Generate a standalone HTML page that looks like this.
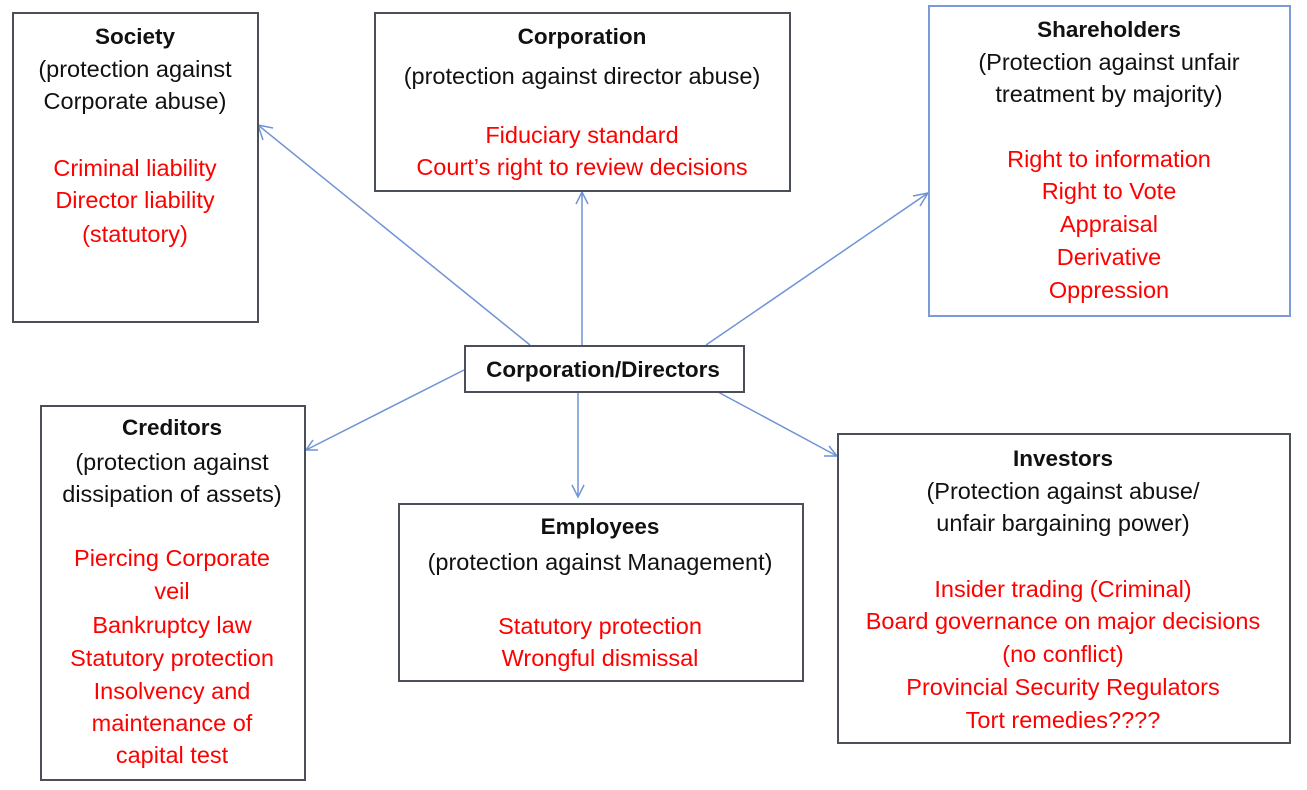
<!DOCTYPE html>
<html><head><meta charset="utf-8"><style>
body{margin:0;width:1307px;height:790px;background:#fff;position:relative;overflow:hidden;font-family:"Liberation Sans",sans-serif;}
.b{position:absolute;border:2px solid #4a4f5a;box-sizing:border-box;background:#fff;}
.t{position:absolute;width:600px;margin-left:-300px;text-align:center;line-height:32px;font-size:23.5px;color:#111;white-space:nowrap;}
.h{font-weight:bold;font-size:22.5px;}
.r{color:#f00;}
svg{position:absolute;left:0;top:0;}
</style></head><body>
<svg width="1307" height="790">
<g stroke="#6f93d6" stroke-width="1.5" fill="none">
<line x1="530" y1="345" x2="258" y2="125"/><polyline points="263,140 258,125 273,128"/>
<line x1="582" y1="345" x2="582" y2="192"/><polyline points="576,204 582,192 588,204"/>
<line x1="706" y1="345" x2="928" y2="193"/><polyline points="913,196 928,193 920,206"/>
<line x1="464" y1="370" x2="306" y2="450"/><polyline points="313,440 306,450 318,450"/>
<line x1="578" y1="392" x2="578" y2="497"/><polyline points="572,485 578,497 584,485"/>
<line x1="718" y1="392" x2="837" y2="456"/><polyline points="824,456 837,456 829,446"/>
<polyline points="670,178 683,183 681,174"/>
</g></svg>
<div class="b" style="left:12px;top:12px;width:247px;height:311px"></div>
<div class="b" style="left:374px;top:12px;width:417px;height:180px"></div>
<div class="b" style="left:928px;top:5px;width:363px;height:312px;border-color:#7a9ad8"></div>
<div class="b" style="left:464px;top:345px;width:281px;height:48px"></div>
<div class="b" style="left:40px;top:405px;width:266px;height:376px"></div>
<div class="b" style="left:398px;top:503px;width:406px;height:179px"></div>
<div class="b" style="left:837px;top:433px;width:454px;height:311px"></div>

<div class="t h" style="left:135px;top:21px">Society</div>
<div class="t" style="left:135px;top:53px">(protection against</div>
<div class="t" style="left:135px;top:85px">Corporate abuse)</div>
<div class="t r" style="left:135px;top:152px">Criminal liability</div>
<div class="t r" style="left:135px;top:184px">Director liability</div>
<div class="t r" style="left:135px;top:218px">(statutory)</div>

<div class="t h" style="left:582px;top:21px">Corporation</div>
<div class="t" style="left:582px;top:60px">(protection against director abuse)</div>
<div class="t r" style="left:582px;top:119px">Fiduciary standard</div>
<div class="t r" style="left:582px;top:151px">Court’s right to review decisions</div>

<div class="t h" style="left:1109px;top:14px">Shareholders</div>
<div class="t" style="left:1109px;top:46px">(Protection against unfair</div>
<div class="t" style="left:1109px;top:78px">treatment by majority)</div>
<div class="t r" style="left:1109px;top:143px">Right to information</div>
<div class="t r" style="left:1109px;top:175px">Right to Vote</div>
<div class="t r" style="left:1109px;top:208px">Appraisal</div>
<div class="t r" style="left:1109px;top:241px">Derivative</div>
<div class="t r" style="left:1109px;top:274px">Oppression</div>

<div class="t h" style="left:603px;top:354px">Corporation/Directors</div>

<div class="t h" style="left:172px;top:412px">Creditors</div>
<div class="t" style="left:172px;top:446px">(protection against</div>
<div class="t" style="left:172px;top:478px">dissipation of assets)</div>
<div class="t r" style="left:172px;top:542px">Piercing Corporate</div>
<div class="t r" style="left:172px;top:575px">veil</div>
<div class="t r" style="left:172px;top:609px">Bankruptcy law</div>
<div class="t r" style="left:172px;top:642px">Statutory protection</div>
<div class="t r" style="left:172px;top:675px">Insolvency and</div>
<div class="t r" style="left:172px;top:707px">maintenance of</div>
<div class="t r" style="left:172px;top:739px">capital test</div>

<div class="t h" style="left:600px;top:511px">Employees</div>
<div class="t" style="left:600px;top:546px">(protection against Management)</div>
<div class="t r" style="left:600px;top:610px">Statutory protection</div>
<div class="t r" style="left:600px;top:642px">Wrongful dismissal</div>

<div class="t h" style="left:1063px;top:443px">Investors</div>
<div class="t" style="left:1063px;top:475px">(Protection against abuse/</div>
<div class="t" style="left:1063px;top:507px">unfair bargaining power)</div>
<div class="t r" style="left:1063px;top:573px">Insider trading (Criminal)</div>
<div class="t r" style="left:1063px;top:605px">Board governance on major decisions</div>
<div class="t r" style="left:1063px;top:638px">(no conflict)</div>
<div class="t r" style="left:1063px;top:671px">Provincial Security Regulators</div>
<div class="t r" style="left:1063px;top:704px">Tort remedies????</div>
</body></html>
